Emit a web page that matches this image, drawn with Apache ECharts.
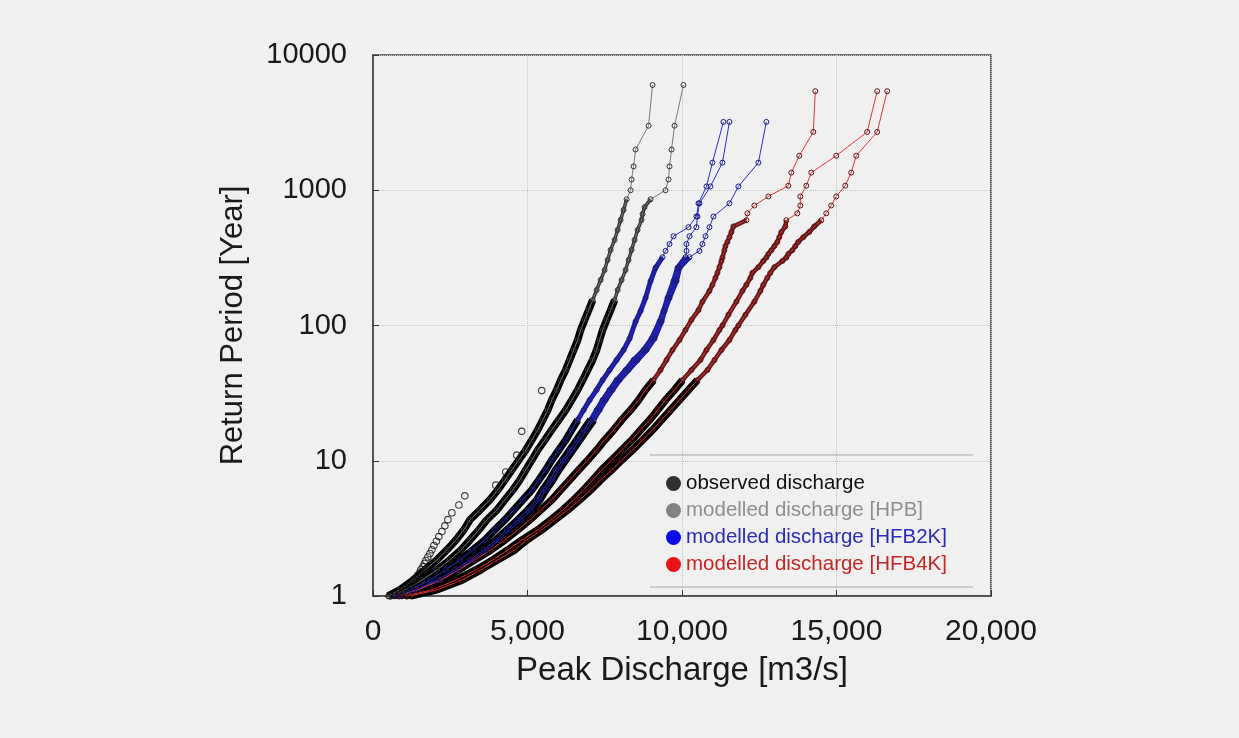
<!DOCTYPE html>
<html><head><meta charset="utf-8">
<script src="https://cdn.jsdelivr.net/npm/echarts@6/dist/echarts.min.js"></script>
<style>html,body{margin:0;padding:0;background:#f0f0f0;}#c{width:1239px;height:738px;}</style>
</head><body><div id="c"></div>
<script>
// Tick values
const xTicks = [0, 5000, 10000, 15000, 20000];
const yTicks = [1, 10, 100, 1000, 10000];

// [Peak discharge m3/s, Return period years]
const observed = [[549,1.0],[711,1.03],[840,1.06],[969,1.1],[1066,1.14],[1163,1.18],[1228,1.22],[1292,1.27],[1357,1.32],[1422,1.375],[1454,1.43],[1519,1.5],[1551,1.57],[1616,1.65],[1664,1.74],[1712,1.83],[1777,1.94],[1842,2.06],[1906,2.2],[1971,2.36],[2052,2.54],[2132,2.75],[2229,3.0],[2326,3.3],[2423,3.67],[2552,4.125],[2779,4.71],[2972,5.5],[3974,6.6],[4297,8.25],[4653,11],[4814,16.5],[5460,33]];

const hpbA = [[485,1],[872,1.11],[1292,1.31],[1680,1.56],[2068,1.85],[2391,2.19],[2682,2.59],[2940,3.08],[3134,3.65],[3457,4.32],[3780,5.13],[4039,6.08],[4265,7.2],[4491,8.54],[4717,10.1],[4943,12.0],[5137,14.2],[5331,16.9],[5493,20.0],[5654,23.7],[5783,28.1],[5945,33.4],[6074,39.5],[6236,46.9],[6365,55.6],[6494,65.9],[6624,78.1],[6720,92.6],[6850,110],[6979,130],[7108,154],[7237,183],[7367,217],[7496,257],[7593,305],[7690,362],[7819,429],[7916,508],[8013,603],[8110,714],[8207,857],[8336,1000],[8368,1200],[8433,1500],[8498,2000],[8918,3000],[9047,6000]];
const hpbB = [[614,1],[1034,1.11],[1583,1.31],[2068,1.56],[2488,1.85],[2843,2.19],[3134,2.59],[3425,3.08],[3683,3.65],[4006,4.32],[4265,5.13],[4523,6.08],[4750,7.2],[4943,8.54],[5137,10.1],[5331,12.0],[5557,14.2],[5783,16.9],[6010,20.0],[6236,23.7],[6430,28.1],[6624,33.4],[6785,39.5],[6947,46.9],[7108,55.6],[7237,65.9],[7334,78.1],[7431,92.6],[7561,110],[7690,130],[7819,154],[7916,183],[8045,217],[8174,257],[8271,305],[8368,362],[8465,429],[8562,508],[8691,603],[8724,667],[8788,750],[8982,857],[9467,1000],[9564,1200],[9596,1500],[9661,2000],[9758,3000],[10048,6000]];

const hfb2kA = [[711,1],[1195,1.11],[1842,1.31],[2359,1.56],[2811,1.85],[3231,2.19],[3619,2.59],[3942,3.08],[4265,3.65],[4556,4.32],[4847,5.13],[5137,6.08],[5363,7.2],[5590,8.54],[5783,10.1],[6010,12.0],[6236,14.2],[6430,16.9],[6624,20.0],[6817,23.7],[7011,28.1],[7237,33.4],[7431,39.5],[7657,46.9],[7884,55.6],[8110,65.9],[8304,80],[8498,107],[8659,128],[8821,160],[8982,213],[9144,267],[9370,320],[9467,356],[9596,400],[9725,457],[10210,533],[10468,640],[10533,800],[10792,1067],[10985,1600],[11341,3200]];
const hfb2kB = [[775,1],[1357,1.11],[2068,1.31],[2649,1.56],[3134,1.85],[3586,2.19],[3974,2.59],[4330,3.08],[4685,3.65],[5008,4.32],[5299,5.13],[5493,6.08],[5719,7.2],[5913,8.54],[6139,10.1],[6365,12.0],[6591,14.2],[6817,16.9],[7044,20.0],[7237,23.7],[7431,28.1],[7657,33.4],[7884,39.5],[8174,46.9],[8433,55.6],[8756,65.9],[9014,80],[9273,107],[9402,128],[9531,160],[9725,213],[9855,267],[10113,320],[10145,356],[10145,400],[10242,457],[10468,533],[10501,640],[10565,800],[10921,1067],[11309,1600],[11535,3200]];
const hfb2kC = [[872,1],[1454,1.11],[2165,1.31],[2746,1.56],[3231,1.85],[3683,2.19],[4071,2.59],[4426,3.08],[4782,3.65],[5105,4.32],[5396,5.13],[5590,6.08],[5816,7.2],[6010,8.54],[6236,10.1],[6462,12.0],[6688,14.2],[6914,16.9],[7141,20.0],[7334,23.7],[7528,28.1],[7754,33.4],[7981,39.5],[8271,46.9],[8562,55.6],[8853,65.9],[9111,80],[9338,107],[9435,128],[9596,160],[9822,213],[9919,267],[10242,320],[10565,356],[10662,400],[10759,457],[10888,533],[11018,640],[11535,800],[11825,1067],[12472,1600],[12730,3200]];

const hfb4kA = [[808,1],[1454,1.11],[2197,1.31],[2779,1.56],[3296,1.85],[3813,2.19],[4265,2.59],[4685,3.08],[5073,3.65],[5428,4.32],[5783,5.13],[6074,6.08],[6365,7.2],[6656,8.54],[6947,10.1],[7237,12.0],[7496,14.2],[7787,16.9],[8045,20.0],[8336,23.7],[8594,28.1],[8821,33.4],[9079,39.5],[9305,46.9],[9499,55.6],[9693,65.9],[9919,78.1],[10113,92.6],[10307,110],[10533,130],[10662,150],[10888,180],[10985,200],[11082,225],[11147,245],[11212,270],[11276,300],[11309,318],[11373,360],[11405,386],[11470,415],[11535,450],[11599,491],[11664,540],[12084,600],[12116,675],[12342,771],[12795,900],[13441,1080],[13538,1350],[13796,1800],[14249,2700],[14313,5400]];
const hfb4kB = [[1034,1],[1906,1.11],[2682,1.31],[3328,1.56],[3877,1.85],[4362,2.19],[4814,2.59],[5331,3.08],[5751,3.65],[6139,4.32],[6494,5.13],[6817,6.08],[7108,7.2],[7399,8.54],[7722,10.1],[8045,12.0],[8368,14.2],[8659,16.9],[8950,20.0],[9208,23.7],[9467,28.1],[9758,33.4],[10016,39.5],[10307,46.9],[10598,55.6],[10792,65.9],[11018,78.1],[11212,92.6],[11309,100],[11502,120],[11761,150],[11955,180],[12084,200],[12213,225],[12278,245],[12472,270],[12633,300],[12730,318],[12795,338],[12892,360],[12989,386],[13086,415],[13150,450],[13215,491],[13344,540],[13376,600],[13732,675],[13829,771],[13829,900],[14023,1080],[14184,1350],[14992,1800],[15993,2700],[16317,5400]];
const hfb4kC = [[1195,1],[2068,1.11],[2876,1.31],[3489,1.56],[4039,1.85],[4588,2.19],[4976,2.59],[5460,3.08],[5880,3.65],[6300,4.32],[6688,5.13],[7044,6.08],[7367,7.2],[7722,8.54],[8045,10.1],[8401,12.0],[8724,14.2],[9047,16.9],[9338,20.0],[9628,23.7],[9919,28.1],[10210,33.4],[10501,39.5],[10824,46.9],[11050,55.6],[11276,65.9],[11535,78.1],[11729,92.6],[11825,100],[12052,120],[12342,150],[12536,180],[12633,200],[12762,225],[12859,245],[12989,270],[13247,300],[13376,318],[13441,338],[13570,360],[13667,386],[13764,415],[13926,450],[14119,491],[14281,540],[14507,600],[14669,675],[14830,771],[14992,900],[15283,1080],[15476,1350],[15638,1800],[16317,2700],[16640,5400]];

const NAME_OBS = 'observed discharge';
const NAME_HPB = 'modelled discharge [HPB]';
const NAME_2K = 'modelled discharge [HFB2K]';
const NAME_4K = 'modelled discharge [HFB4K]';

const groups = [
  {name: NAME_HPB, curves: [hpbA, hpbB], line: '#7a7a7a', mark: '#333333', band: '#383838', bandW: 3.5, tBlack: 154, tDense: 857},
  {name: NAME_2K, curves: [hfb2kA, hfb2kB, hfb2kC], line: '#2a2ad0', mark: '#1b1b78', band: '#1c1c96', bandW: 5, tBlack: 20, tDense: 320},
  {name: NAME_4K, curves: [hfb4kA, hfb4kB, hfb4kC], line: '#e03434', mark: '#5a1616', band: '#661b1b', bandW: 4.5, tBlack: 39.5, tDense: 600}
];

const bandSeries = [], lineSeries = [];
groups.forEach(g => {
  g.curves.forEach(pts => {
    bandSeries.push({type: 'line', name: g.name, data: pts.filter(p => p[1] <= g.tBlack + 1e-6),
      showSymbol: false, symbol: 'none', lineStyle: {color: '#000', width: 7.5}, z: 2, silent: true});
    bandSeries.push({type: 'line', name: g.name, data: pts.filter(p => p[1] >= g.tBlack - 1e-6 && p[1] <= g.tDense + 1e-6),
      showSymbol: false, symbol: 'none', lineStyle: {color: g.band, width: g.bandW}, z: 2, silent: true});
    lineSeries.push({type: 'line', name: g.name, data: pts, symbol: 'circle', symbolSize: 5, showSymbol: true, showAllSymbol: true,
      lineStyle: {color: g.line, width: 1}, itemStyle: {color: 'rgba(0,0,0,0)', borderColor: g.mark, borderWidth: 1}, z: 3});
  });
});

const chart = echarts.init(document.getElementById('c'), null, {renderer: 'canvas'});
chart.setOption({
  animation: false,
  backgroundColor: '#f0f0f0',
  textStyle: {fontFamily: 'Liberation Sans, Arial, sans-serif'},
  grid: {left: 373, right: 248, top: 55, bottom: 142, show: true, borderColor: '#444', borderWidth: 1.5, backgroundColor: 'transparent'},
  legend: {
    orient: 'vertical', left: 661, top: 468, itemWidth: 15, itemHeight: 15, itemGap: 6, icon: 'circle', selectedMode: false,
    textStyle: {fontSize: 20.5, fontFamily: 'Liberation Sans, Arial, sans-serif'},
    data: [
      {name: NAME_OBS, itemStyle: {color: '#000', borderWidth: 0}, textStyle: {color: '#111'}},
      {name: NAME_HPB, itemStyle: {color: '#828282', borderWidth: 0}, textStyle: {color: '#8e8e8e'}},
      {name: NAME_2K, itemStyle: {color: '#0a0ae8', borderWidth: 0}, textStyle: {color: '#2a2ab8'}},
      {name: NAME_4K, itemStyle: {color: '#ea1212', borderWidth: 0}, textStyle: {color: '#c42626'}}
    ]
  },
  graphic: [
    {type: 'line', shape: {x1: 650, y1: 455, x2: 973, y2: 455}, style: {stroke: '#a8a8a8', lineWidth: 1}, z: 10},
    {type: 'line', shape: {x1: 650, y1: 587, x2: 973, y2: 587}, style: {stroke: '#a8a8a8', lineWidth: 1}, z: 10}
  ],
  xAxis: {
    type: 'value', min: xTicks[0], max: xTicks[xTicks.length - 1], interval: xTicks[1] - xTicks[0],
    name: 'Peak Discharge [m3/s]', nameLocation: 'middle', nameGap: 58,
    nameTextStyle: {fontSize: 33, color: '#1a1a1a'},
    axisLine: {show: true, lineStyle: {color: '#444', width: 1.5}},
    axisTick: {show: true, inside: true, length: 6, lineStyle: {color: '#333'}},
    axisLabel: {fontSize: 30, color: '#1a1a1a', margin: 21, formatter: v => v.toLocaleString('en-US')},
    splitLine: {show: true, lineStyle: {type: 'dotted', color: '#c4c4c4', width: 1}}
  },
  yAxis: {
    type: 'log', logBase: 10, min: yTicks[0], max: yTicks[yTicks.length - 1],
    name: 'Return Period [Year]', nameLocation: 'middle', nameGap: 124, nameRotate: 90,
    nameTextStyle: {fontSize: 31, color: '#1a1a1a'},
    axisLine: {show: true, lineStyle: {color: '#444', width: 1.5}},
    axisTick: {show: true, inside: true, length: 6, lineStyle: {color: '#333'}},
    axisLabel: {fontSize: 29, color: '#1a1a1a', margin: 26, formatter: v => String(Math.round(v))},
    splitLine: {show: true, lineStyle: {type: 'dotted', color: '#c4c4c4', width: 1}}
  },
  series: [
    ...bandSeries,
    ...lineSeries,
    {type: 'scatter', name: NAME_OBS, data: observed, symbol: 'circle', symbolSize: 6.5,
      itemStyle: {color: 'rgba(0,0,0,0)', borderColor: '#111', borderWidth: 1.1}, z: 5}
  ]
});
</script>
</body></html>
